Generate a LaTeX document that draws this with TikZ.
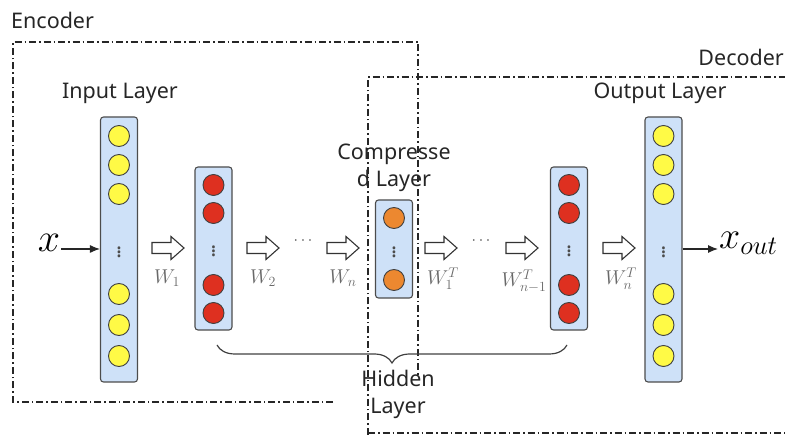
\RequirePackage{fix-cm}
\documentclass[tikz,border=0pt]{standalone}
\usepackage{fontspec}
\setmainfont{Noto Sans}
\usetikzlibrary{decorations.pathreplacing,arrows.meta}
\definecolor{colfill}{RGB}{206,225,248}
\definecolor{nyellow}{RGB}{255,250,70}
\definecolor{nred}{RGB}{222,48,32}
\definecolor{norange}{RGB}{236,136,48}
\definecolor{wgray}{RGB}{105,105,105}
\begin{document}
\begin{tikzpicture}[x=1pt,y=-1pt,
  col/.style={draw=black!70, fill=colfill, rounded corners=3pt, line width=1.1pt, minimum width=37pt, inner sep=0,
    font=\fontsize{22}{22}\selectfont, text=black!70},
  neuron/.style={circle, draw=black!75, line width=0.9pt, minimum size=21pt, inner sep=0},
  yn/.style={neuron, fill=nyellow},
  rn/.style={neuron, fill=nred},
  on/.style={neuron, fill=norange},
  hol/.style={draw=black!80, fill=white, line width=1.1pt, line join=miter},
  lbl/.style={font=\fontsize{21.5}{27}\selectfont, text=black!85, inner sep=1pt},
  wl/.style={font=\fontsize{20}{22}\selectfont, text=wgray, inner sep=1pt},
  box/.style={line width=1.2pt, black!85, dash pattern=on 7pt off 3pt on 1.5pt off 3pt},
  conn/.style={line width=1.1pt, black!85, -{Latex[length=10pt,width=8pt]}}
]
\useasboundingbox (0,0) rectangle (785,435);

% Encoder / Decoder boxes
\node[lbl, anchor=west] (enc) at (10,20) {Encoder};
\node[lbl, anchor=east] (dec) at (785,57) {Decoder};
\draw[box] (333,402) -- (13,402) -- (13,42) -- (418,42) -- (418,375);
\draw[box] (368,435) -- (368,77) -- (785,77);
\draw[box] (368,433) -- (785,433);

% columns (with vertical dots)
\node[col, minimum height=265pt] (c1) at (119,249.5) {$\vdots$};
\node[col, minimum height=163pt] (c2) at (213.5,248.5) {$\vdots$};
\node[col, minimum height=98pt] (c3) at (394,249) {$\vdots$};
\node[col, minimum height=163pt] (c4) at (569,248.5) {$\vdots$};
\node[col, minimum height=265pt] (c5) at (663.5,249.5) {$\vdots$};

% neurons
\foreach \y [count=\i] in {136,165,194,294,325,356}{
  \node[yn] (a\i) at (119,\y) {};
  \node[yn] (e\i) at (663.5,\y) {};
}
\foreach \y [count=\i] in {185,213,285,313}{
  \node[rn] (b\i) at (213.5,\y) {};
  \node[rn] (d\i) at (569,\y) {};
}
\node[on] (o1) at (394,218) {};
\node[on] (o2) at (394,280) {};

% labels
\node[lbl] (inl) at (120,93) {Input Layer};
\node[lbl] (outl) at (660,93) {Output Layer};
\node[lbl, align=center] (cpl) at (394,168) {Compresse\\d Layer};
\node[lbl, align=center] (hdl) at (398,394) {Hidden\\Layer};

% input/output
\node[font=\fontsize{40}{40}\selectfont, inner sep=1pt] (x) at (49,243) {$x$};
\node[font=\fontsize{38}{38}\selectfont, anchor=west, inner sep=1pt] (xo) at (718,243) {$x_{out}$};
\draw[conn] (x.east |- 0,249) -- (c1.west |- 0,249);
\draw[conn] (c5.east |- 0,249) -- (xo.west |- 0,249);

% hollow arrows
\foreach \n/\x in {h1/152,h2/247,h3/327,h4/425,h5/506,h6/603}{
  \coordinate (\n) at (\x,248);
  \draw[hol] (\n) ++(0,-5.5) -- ++(19,0) -- ++(0,-6) -- ++(13,11.5) -- ++(-13,11.5) -- ++(0,-6) -- ++(-19,0) -- cycle;
}

% dots
\node[font=\fontsize{16}{16}\selectfont, text=black!70] (dd1) at (303,241) {$\cdots$};
\node[font=\fontsize{16}{16}\selectfont, text=black!70] (dd2) at (481,241) {$\cdots$};

% weight labels
\node[wl] (w1) at (167,278) {$W_1$};
\node[wl] (w2) at (263,278) {$W_2$};
\node[wl] (wn) at (343,278) {$W_n$};
\node[wl] (w1t) at (443,279) {$W_1^T$};
\node[wl] (wn1t) at (524,281) {$W_{n-1}^T$};
\node[wl] (wnt) at (621,279) {$W_n^T$};

% brace
\draw[line width=1.2pt, black!75, decorate, decoration={brace, mirror, amplitude=18pt}] (217,345) -- (567,345);
\end{tikzpicture}
\end{document}
